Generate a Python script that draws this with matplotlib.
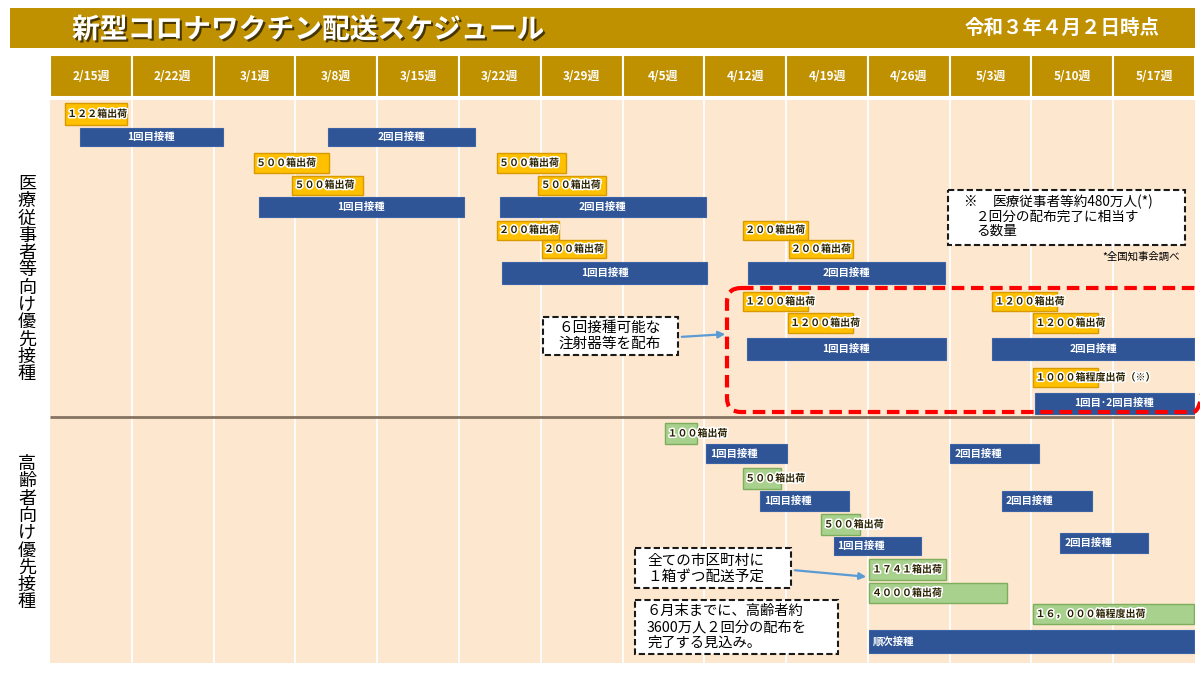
import matplotlib.pyplot as plt
import matplotlib.patheffects as pe
from matplotlib.patches import Rectangle, FancyBboxPatch

plt.rcParams['font.family'] = ['Noto Sans CJK JP', 'DejaVu Sans']

TITLE = "新型コロナワクチン配送スケジュール"
AS_OF = "令和３年４月２日時点"
weeks = ["2/15週", "2/22週", "3/1週", "3/8週", "3/15週", "3/22週", "3/29週",
         "4/5週", "4/12週", "4/19週", "4/26週", "5/3週", "5/10週", "5/17週"]
section_labels = ["医療従事者等向け優先接種", "高齢者向け優先接種"]

# medical workers section: text, kind, start week, end week, lane
med_text = ["１２２箱出荷", "1回目接種", "2回目接種",
            "５００箱出荷", "５００箱出荷", "1回目接種",
            "５００箱出荷", "５００箱出荷", "2回目接種",
            "２００箱出荷", "２００箱出荷", "1回目接種",
            "２００箱出荷", "２００箱出荷", "2回目接種",
            "１２００箱出荷", "１２００箱出荷", "1回目接種",
            "１２００箱出荷", "１２００箱出荷", "2回目接種",
            "１０００箱程度出荷（※）", "1回目･2回目接種"]
med_kind = ["ship", "dose", "dose",
            "ship", "ship", "dose",
            "ship", "ship", "dose",
            "ship", "ship", "dose",
            "ship", "ship", "dose",
            "ship", "ship", "dose",
            "ship", "ship", "dose",
            "ship", "dose"]
med_start = [0.18, 0.37, 3.40, 2.49, 2.96, 2.55, 5.46, 5.97, 5.50, 5.46, 6.01, 5.53,
             8.47, 9.03, 8.53, 8.47, 9.02, 8.52, 11.52, 12.02, 11.52, 12.02, 12.04]
med_end = [0.94, 2.11, 5.20, 3.41, 3.83, 5.06, 6.31, 6.80, 8.02, 6.22, 6.80, 8.03,
           9.27, 9.82, 10.94, 9.27, 9.82, 10.95, 12.31, 12.81, 13.99, 12.81, 13.99]
med_lane = [0, 1, 1, 2, 3, 4, 2, 3, 4, 5, 6, 7, 5, 6, 7, 8, 9, 10, 8, 9, 10, 11, 12]

# elderly section
eld_text = ["１００箱出荷", "1回目接種", "2回目接種",
            "５００箱出荷", "1回目接種", "2回目接種",
            "５００箱出荷", "1回目接種", "2回目接種",
            "１７４１箱出荷", "４０００箱出荷", "１６，０００箱程度出荷", "順次接種"]
eld_kind = ["ship", "dose", "dose", "ship", "dose", "dose",
            "ship", "dose", "dose", "ship", "ship", "ship", "dose"]
eld_start = [7.52, 8.02, 11.01, 8.47, 8.68, 11.64, 9.43, 9.58, 12.35,
             10.02, 10.02, 12.02, 10.01]
eld_end = [7.91, 9.01, 12.09, 8.94, 9.77, 12.74, 9.90, 10.65, 13.42,
           10.95, 11.70, 13.99, 13.99]
eld_lane = [13, 14, 14, 15, 16, 16, 17, 18, 23, 19, 20, 21, 22]

# lane layout (pixel rows)
lane_y = [114, 137, 163, 185, 207, 230, 249, 273, 301.5, 323, 349, 377.5, 403,
          433.5, 453.5, 478.5, 501, 524.5, 546, 569.5, 593, 614, 641.5, 543]
lane_h = [22, 18, 20, 19, 20, 19, 18, 22, 19, 20, 22, 19, 21,
          21, 19, 21, 20, 21, 18, 21, 20, 20, 23, 20]

GOLD = "#BF9000"
PEACH = "#FDE7CE"
BLUE = "#2F5597"
YELLOW = "#FFC000"
GREEN = "#A9D18E"

fig = plt.figure(figsize=(12, 6.73), dpi=100)
W, H = 1200, 673

ax = fig.add_axes([50 / W, 1 - 663 / H, 1145 / W, (663 - 55) / H])
ax.set_xlim(0, 14)
ax.set_ylim(663, 55)
ax.axis("off")

# header cells
ax.bar(range(14), 42, bottom=55, width=1, align="edge", color=GOLD,
       edgecolor="white", linewidth=1.5)
for i, w in enumerate(weeks):
    ax.text(i + 0.5, 77, w, ha="center", va="center", color="white",
            fontsize=8.5, fontweight="bold")

# body
ax.add_patch(Rectangle((0, 100), 14, 563, facecolor=PEACH, edgecolor="none"))
ax.vlines(range(1, 14), 100, 663, color="white", linewidth=1.3)
ax.hlines(417, 0, 14, color="#857463", linewidth=2, zorder=3)

glow = [pe.withStroke(linewidth=2.2, foreground="white")]


def draw_section(texts, kinds, starts, ends, lanes, ship_color, ship_edge, center_dose):
    for t, k, s, e, l in zip(texts, kinds, starts, ends, lanes):
        y, h = lane_y[l], lane_h[l]
        if k == "dose":
            ax.barh(y, e - s, left=s, height=h, color=BLUE, edgecolor="#3B63A8",
                    linewidth=0.8, zorder=4)
            if center_dose:
                ax.text((s + e) / 2, y, t, ha="center", va="center", color="white",
                        fontsize=7.5, fontweight="bold", zorder=5)
            else:
                ax.text(s + 0.05, y, t, ha="left", va="center", color="white",
                        fontsize=7.5, fontweight="bold", zorder=5)
        else:
            ax.barh(y, e - s, left=s, height=h, color=ship_color, edgecolor=ship_edge,
                    linewidth=1.0, zorder=4)
            ax.text(s + 0.03, y, t, ha="left", va="center", color="#2a2200",
                    fontsize=7.2, fontweight="bold", path_effects=glow, zorder=5)


draw_section(med_text, med_kind, med_start, med_end, med_lane, YELLOW, "#D99A00", True)
draw_section(eld_text, eld_kind, eld_start, eld_end, eld_lane, GREEN, "#7DAE5C", False)

# overlay in pixel coordinates for titles and callouts
ov = fig.add_axes([0, 0, 1, 1])
ov.set_xlim(0, W)
ov.set_ylim(H, 0)
ov.axis("off")
ov.set_zorder(5)
ov.patch.set_visible(False)

ov.add_patch(Rectangle((10, 8), 1185, 40, facecolor=GOLD, edgecolor="none"))
ov.text(72, 30, TITLE, ha="left", va="center", color="white", fontsize=20,
        fontweight="bold",
        path_effects=[pe.withSimplePatchShadow(offset=(1.5, -1.5),
                                               shadow_rgbFace="#3a2c00", alpha=0.9)])
ov.text(1160, 28, AS_OF, ha="right", va="center", color="white", fontsize=14,
        fontweight="bold")

for label, y0 in zip(section_labels, [184, 464]):
    for i, ch in enumerate(label):
        ov.text(27, y0 + i * 17.3, ch, ha="center", va="center", fontsize=13,
                color="black")

# red dashed region
ov.add_patch(FancyBboxPatch((727, 288), 480, 124, boxstyle="round,pad=0,rounding_size=14",
                            facecolor="none", edgecolor="#FF0000", linewidth=3,
                            linestyle=(0, (3, 1.6)), zorder=6))


def callout(x0, y0, x1, y1):
    ov.add_patch(Rectangle((x0, y0), x1 - x0, y1 - y0, facecolor="white",
                           edgecolor="#1a1a1a", linewidth=1.5, linestyle=(0, (3, 1.5)),
                           zorder=6))


arrow = dict(arrowstyle="-|>", color="#5B9BD5", lw=1.6, mutation_scale=10)

callout(543, 317, 678, 355)
ov.text(610, 336, "６回接種可能な\n注射器等を配布", ha="center", va="center",
        fontsize=10.5, linespacing=1.1, zorder=7)
ov.annotate("", xy=(728, 334), xytext=(679, 337), arrowprops=arrow, zorder=7)

callout(948, 190, 1185, 245)
ov.text(963, 202, "※", ha="left", va="center", fontsize=9.8, zorder=7)
ov.text(993, 202, "医療従事者等約480万人(*)", ha="left", va="center", fontsize=9.8, zorder=7)
ov.text(976, 217, "２回分の配布完了に相当す", ha="left", va="center", fontsize=9.8, zorder=7)
ov.text(976, 231, "る数量", ha="left", va="center", fontsize=9.8, zorder=7)
ov.text(1180, 257, "*全国知事会調べ", ha="right", va="center", fontsize=7.5, zorder=7)

callout(635, 548, 791, 588)
ov.text(647, 561, "全ての市区町村に", ha="left", va="center", fontsize=10.5, zorder=7)
ov.text(647, 577, "１箱ずつ配送予定", ha="left", va="center", fontsize=10.5, zorder=7)
ov.annotate("", xy=(869, 577), xytext=(792, 570), arrowprops=arrow, zorder=7)

callout(635, 600, 838, 654)
ov.text(647, 611, "６月末までに、高齢者約", ha="left", va="center", fontsize=10.3, zorder=7)
ov.text(647, 627, "3600万人２回分の配布を", ha="left", va="center", fontsize=10.3, zorder=7)
ov.text(647, 643, "完了する見込み。", ha="left", va="center", fontsize=10.3, zorder=7)

fig.savefig("out.png", dpi=100)
